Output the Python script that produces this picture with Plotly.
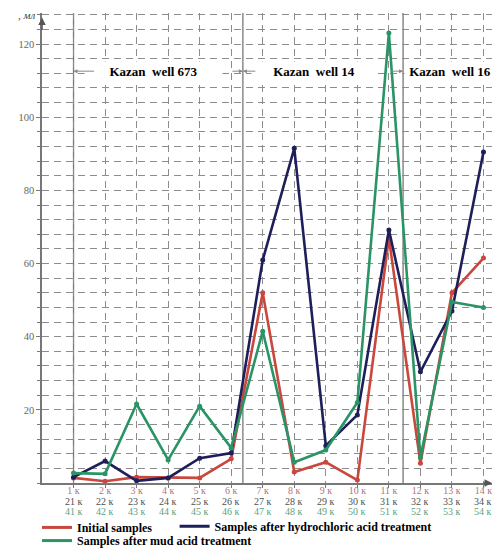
import plotly.graph_objects as go

# ---- data ----
cat_row1 = ["1 к", "2 к", "3 к", "4 к", "5 к", "6 к", "7 к", "8 к", "9 к", "10 к", "11 к", "12 к", "13 к", "14 к"]
cat_row2 = ["21 к", "22 к", "23 к", "24 к", "25 к", "26 к", "27 к", "28 к", "29 к", "30 к", "31 к", "32 к", "33 к", "34 к"]
cat_row3 = ["41 к", "42 к", "43 к", "44 к", "45 к", "46 к", "47 к", "48 к", "49 к", "50 к", "51 к", "52 к", "53 к", "54 к"]

initial = [1.4, 0.5, 1.6, 1.4, 1.4, 6.6, 52, 3.0, 5.7, 0.8, 67, 5.4, 52, 61.5]
hydrochloric = [1.6, 6.0, 0.6, 1.4, 6.8, 8.2, 61, 91.5, 10.2, 18.6, 69.2, 30.4, 47, 90.5]
mud_acid = [2.7, 2.5, 21.6, 6.3, 21, 9.6, 41.5, 5.7, 9.0, 22, 123, 7.0, 49.5, 48]

series_names = ["Initial samples", "Samples after hydrochloric acid treatment", "Samples after mud acid treatment"]
y_tick_values = [20, 40, 60, 80, 100, 120]
well_names = ["Kazan  well 673", "Kazan  well 14", "Kazan  well 16"]
y_label = ", мл"

# ---- styling ----
RED = "#c9473c"
NAVY = "#1e1e5a"
GREEN = "#2a9466"
GRID = "#8c8c8c"
SERIF = "Liberation Serif, Times New Roman, serif"

x = list(range(1, len(cat_row1) + 1))

fig = go.Figure()
legend_ids = ["legend", "legend2", "legend3"]
for i, (name, vals, col, lg) in enumerate(zip(series_names, [initial, hydrochloric, mud_acid],
                                               [RED, NAVY, GREEN], legend_ids)):
    fig.add_trace(go.Scatter(
        x=x, y=vals, name=name, mode="lines+markers",
        line=dict(color=col, width=2.6),
        marker=dict(color=col, size=5),
        legendgroup=f"g{i}", showlegend=False,
    ))
    # legend key (line only, no marker) tied to the same group
    fig.add_trace(go.Scatter(
        x=[None], y=[None], name=name, mode="lines",
        line=dict(color=col, width=3),
        legendgroup=f"g{i}", showlegend=True, legend=lg,
    ))

X_MAX = 14.27
Y_MAX = 128.5
legend_font = dict(family=SERIF, size=12, color="black", weight="bold")
fig.update_layout(
    width=496, height=548,
    margin=dict(l=42, r=4, t=13, b=65, autoexpand=False),
    plot_bgcolor="white", paper_bgcolor="white",
    font=dict(family=SERIF, size=11, color="#555"),
    xaxis=dict(
        range=[0, X_MAX], tickvals=x, ticktext=cat_row1,
        showgrid=True, gridcolor=GRID, griddash="7px,5px", gridwidth=1,
        showline=True, linecolor="#777", linewidth=1.5,
        ticks="outside", ticklen=3, tickcolor="#777",
        ticklabelstandoff=-6,
        tickfont=dict(family=SERIF, size=10, color="#b27474"),
        zeroline=False, fixedrange=True, automargin=False,
    ),
    yaxis=dict(
        range=[0, Y_MAX], tickvals=y_tick_values,
        showgrid=True, gridcolor=GRID, griddash="7px,5px", gridwidth=1,
        minor=dict(dtick=4, tick0=0, showgrid=True, gridcolor=GRID, griddash="7px,5px",
                   gridwidth=1, ticks="outside", ticklen=3, tickcolor="#777"),
        showline=True, linecolor="#777", linewidth=1.5,
        ticks="outside", ticklen=4, tickcolor="#777",
        tickfont=dict(family=SERIF, size=10.5, color="#666"),
        zeroline=False, fixedrange=True, automargin=False,
    ),
    showlegend=True,
    legend=dict(xref="container", yref="container", x=0.0746, xanchor="left",
                y=0.064, yanchor="top", font=legend_font, bgcolor="rgba(0,0,0,0)", itemwidth=30),
    legend2=dict(xref="container", yref="container", x=0.352, xanchor="left",
                 y=0.066, yanchor="top", font=legend_font, bgcolor="rgba(0,0,0,0)", itemwidth=30),
    legend3=dict(xref="container", yref="container", x=0.0746, xanchor="left",
                 y=0.040, yanchor="top", font=legend_font, bgcolor="rgba(0,0,0,0)", itemwidth=30),
)

# second and third rows of category labels under the axis
for row, shift, col in [(cat_row2, -18, "#505050"), (cat_row3, -28, "#5aa37f")]:
    for xi, lab in zip(x, row):
        fig.add_annotation(x=xi, y=0, xref="x", yref="paper", text=lab, showarrow=False,
                           yanchor="middle", yshift=shift,
                           font=dict(family=SERIF, size=10, color=col))

# well boundaries (solid vertical lines)
boundaries = [1.0, 6.37, 11.45]
for b in boundaries:
    fig.add_shape(type="line", xref="x", yref="paper", x0=b, x1=b, y0=0, y1=1,
                  line=dict(color="#777", width=1.3), layer="below")

# well labels with arrows
label_y = 112.6
label_specs = [(3.55, 135), (8.63, 122), (12.95, 88)]
for name, (cx, w) in zip(well_names, label_specs):
    fig.add_annotation(x=cx, y=label_y, xref="x", yref="y", text=f"<b>{name}</b>",
                       showarrow=False, bgcolor="white", width=w, height=17,
                       font=dict(family=SERIF, size=13, color="black"))

arrow_specs = [(1.0, 22), (6.37, -12), (6.37, 14), (11.45, -14)]
for ax_x, off in arrow_specs:
    fig.add_annotation(x=ax_x, y=label_y, xref="x", yref="y", text="", showarrow=True,
                       ax=off, ay=0, arrowhead=2, arrowsize=0.8, arrowwidth=1,
                       arrowcolor="#888")

# axis arrows
fig.add_annotation(x=0, y=127.3, xref="x", yref="y", text="", showarrow=True,
                   ax=0, ay=14, arrowhead=2, arrowsize=1, arrowwidth=1.5, arrowcolor="#555")
fig.add_annotation(x=X_MAX, y=0, xref="x", yref="y", text="", showarrow=True,
                   ax=-10, ay=0, arrowhead=2, arrowsize=1, arrowwidth=1.5, arrowcolor="#555")

# y-axis unit label
fig.add_annotation(x=-0.01, y=0.995, xref="paper", yref="paper", text=f"<i>{y_label}</i>",
                   showarrow=False, xanchor="right", yanchor="middle",
                   font=dict(family=SERIF, size=11, color="#444"))

fig.write_html(
    "out.html",
    config={"displayModeBar": False},
    post_script="document.body.style.margin='0';document.body.style.overflow='hidden';",
)
